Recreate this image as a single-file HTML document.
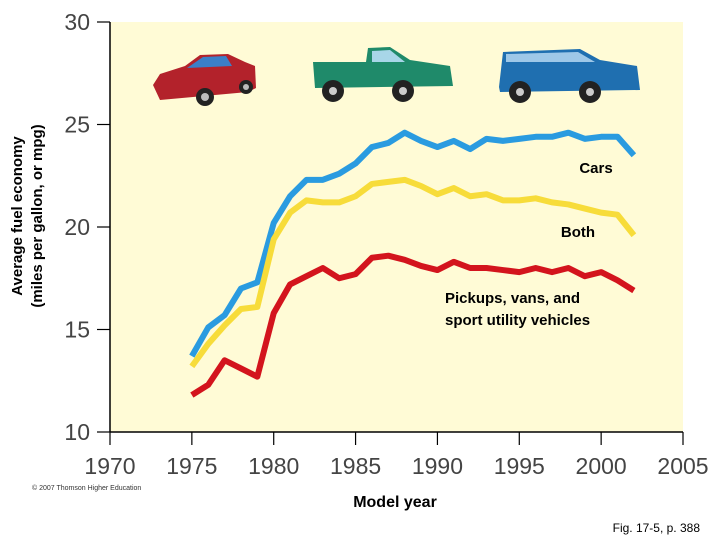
<!DOCTYPE html>
<html><head><meta charset="utf-8"><style>
body{margin:0;background:#fff;}
svg text{font-family:"Liberation Sans",sans-serif;}
</style></head><body>
<svg width="720" height="540" xmlns="http://www.w3.org/2000/svg">
<rect x="110" y="22" width="573" height="410" fill="#fffbd6"/>
<g id="axes"></g>
<g id="vehicles">
 <g>
  <path d="M153,85 L160,74 L185,66 L200,55 L228,54 L245,62 L255,66 L256,88 L248,92 L160,100 Z" fill="#b3222b"/>
  <path d="M187,68 L203,57 L226,56 L232,66 Z" fill="#3b7fc8"/>
  <circle cx="205" cy="97" r="9" fill="#222"/><circle cx="205" cy="97" r="4" fill="#bbb"/>
  <circle cx="246" cy="87" r="7" fill="#222"/><circle cx="246" cy="87" r="3" fill="#bbb"/>
 </g>
 <g>
  <path d="M313,62 L366,62 L368,48 L390,47 L410,60 L450,66 L453,86 L315,88 Z" fill="#1f8a6a"/>
  <path d="M372,51 L390,50 L405,62 L372,62 Z" fill="#a8d6e8"/>
  <circle cx="333" cy="91" r="11" fill="#222"/><circle cx="333" cy="91" r="4" fill="#ccc"/>
  <circle cx="403" cy="91" r="11" fill="#222"/><circle cx="403" cy="91" r="4" fill="#ccc"/>
 </g>
 <g>
  <path d="M499,87 L503,52 L580,49 L600,60 L637,66 L640,90 L500,92 Z" fill="#1f6fb0"/>
  <path d="M506,54 L578,52 L595,62 L506,62 Z" fill="#9ec8e8"/>
  <circle cx="520" cy="92" r="11" fill="#222"/><circle cx="520" cy="92" r="4" fill="#ccc"/>
  <circle cx="590" cy="92" r="11" fill="#222"/><circle cx="590" cy="92" r="4" fill="#ccc"/>
 </g>
</g>
<g id="series"></g>
<text x="596" y="173" font-size="15" font-weight="bold" text-anchor="middle">Cars</text>
<text x="578" y="237" font-size="15" font-weight="bold" text-anchor="middle">Both</text>
<text x="445" y="303" font-size="15" font-weight="bold">Pickups, vans, and</text>
<text x="445" y="325" font-size="15" font-weight="bold">sport utility vehicles</text>
<text transform="translate(22,216) rotate(-90)" font-size="15" font-weight="bold" text-anchor="middle">Average fuel economy</text>
<text transform="translate(42,216) rotate(-90)" font-size="15" font-weight="bold" text-anchor="middle">(miles per gallon, or mpg)</text>
<text x="395" y="507" font-size="16" font-weight="bold" text-anchor="middle">Model year</text>
<text x="32" y="490" font-size="7" fill="#333">© 2007 Thomson Higher Education</text>
<text x="700" y="532" font-size="12" text-anchor="end">Fig. 17-5, p. 388</text>
</svg>
<script>
const years=[1975,1976,1977,1978,1979,1980,1981,1982,1983,1984,1985,1986,1987,1988,1989,1990,1991,1992,1993,1994,1995,1996,1997,1998,1999,2000,2001,2002];
const cars=[13.7,15.1,15.7,17.0,17.3,20.2,21.5,22.3,22.3,22.6,23.1,23.9,24.1,24.6,24.2,23.9,24.2,23.8,24.3,24.2,24.3,24.4,24.4,24.6,24.3,24.4,24.4,23.5];
const both=[13.2,14.3,15.2,16.0,16.1,19.4,20.7,21.3,21.2,21.2,21.5,22.1,22.2,22.3,22.0,21.6,21.9,21.5,21.6,21.3,21.3,21.4,21.2,21.1,20.9,20.7,20.6,19.6];
const trucks=[11.8,12.3,13.5,13.1,12.7,15.8,17.2,17.6,18.0,17.5,17.7,18.5,18.6,18.4,18.1,17.9,18.3,18.0,18.0,17.9,17.8,18.0,17.8,18.0,17.6,17.8,17.4,16.9];
const xTicks=[1970,1975,1980,1985,1990,1995,2000,2005];
const yTicks=[10,15,20,25,30];
const NS="http://www.w3.org/2000/svg";
const X=v=>110+(v-1970)*(573/35);
const Y=v=>432-(v-10)*20.5;
const ax=document.getElementById('axes');
function mk(t,a,p){const e=document.createElementNS(NS,t);for(const k in a)e.setAttribute(k,a[k]);p.appendChild(e);return e;}
const xl=mk('line',{x1:110,y1:432,x2:683,y2:432,stroke:'#000','stroke-width':1.5},ax);


const yl=mk('line',{x1:110,y1:22,x2:110,y2:432,stroke:'#000','stroke-width':1.5},ax);


xTicks.forEach(v=>{
 mk('line',{x1:X(v),y1:432,x2:X(v),y2:445,stroke:'#000','stroke-width':1.2},ax);
 const t=mk('text',{x:X(v),y:474,'font-size':23,'text-anchor':'middle',fill:'#444'},ax);t.textContent=v;
 
 
});
yTicks.forEach(v=>{
 mk('line',{x1:97,y1:Y(v),x2:110,y2:Y(v),stroke:'#000','stroke-width':1.2},ax);
 const t=mk('text',{x:90,y:Y(v)+8,'font-size':23,'text-anchor':'end',fill:'#444'},ax);t.textContent=v;
 
 
});
const sg=document.getElementById('series');
[[cars,'#2a9be0','cars-line'],[both,'#f7dc3a','both-line'],[trucks,'#d3141d','pickups-line']].forEach(([d,c,n])=>{
 const p=mk('polyline',{points:d.map((v,i)=>X(years[i])+','+Y(v)).join(' '),fill:'none',stroke:c,'stroke-width':6,'stroke-linejoin':'round'},sg);
 
 
});
</script>
</body></html>
